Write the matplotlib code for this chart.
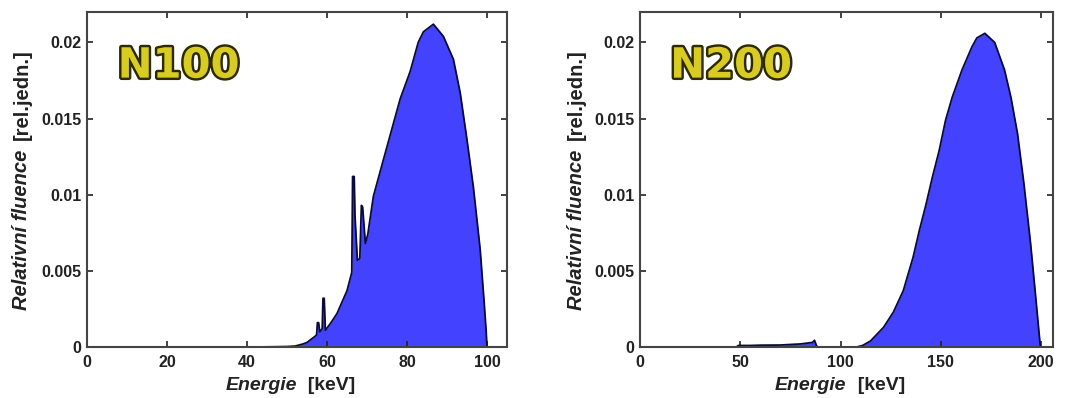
import matplotlib
matplotlib.use("Agg")
import matplotlib.pyplot as plt
import matplotlib.patheffects as pe

plt.rcParams['font.family'] = ['Liberation Sans', 'DejaVu Sans']
plt.rcParams['font.weight'] = 'bold'

# N100 spectrum (keV, relative fluence)
n100_energy = [0, 40, 45, 50, 52, 54, 55, 56, 57, 57.4, 57.6, 57.9, 58.2, 58.8, 59.0,
               59.3, 59.6, 61.0, 62.5, 64.0, 65.0, 66.2, 66.4, 66.8, 67.0, 67.6, 68.2,
               68.6, 68.9, 69.6, 70.2, 71.6, 74.1, 76.2, 78.3, 80.8, 82.8, 84.1, 86.6,
               89.1, 91.6, 93.3, 94.9, 96.6, 98.3, 99.3, 99.8, 100.0]
n100_fluence = [0, 0, 0.00001, 0.00003, 0.00006, 0.0002, 0.0003, 0.0005, 0.0007, 0.0008,
                0.0016, 0.0016, 0.0010, 0.0012, 0.0032, 0.0032, 0.0011, 0.0016, 0.0022,
                0.0031, 0.0037, 0.0049, 0.0112, 0.0112, 0.0086, 0.0057, 0.0058, 0.0093,
                0.0092, 0.0068, 0.0074, 0.0099, 0.0123, 0.0143, 0.0163, 0.0181, 0.0200,
                0.0207, 0.0212, 0.0204, 0.0189, 0.0167, 0.0138, 0.0105, 0.0064, 0.0029,
                0.0010, 0.0]

# N200 spectrum (keV, relative fluence)
n200_energy = [0, 48, 49, 55, 60, 70, 80, 86, 87, 88, 88.5, 108, 111, 115, 121.5, 126.4,
               131.3, 136.2, 139.4, 142.7, 145.9, 149.2, 152.4, 155.7, 160.6, 165.5, 168,
               172, 176.9, 181.8, 185, 188.3, 191.5, 194.8, 197.2, 198.9, 199.7, 200]
n200_fluence = [0, 0, 0.0001, 0.0001, 0.00012, 0.00013, 0.0002, 0.0003, 0.00044, 0.0001,
                0, 0, 0.0001, 0.0004, 0.0013, 0.0023, 0.0037, 0.0059, 0.0077, 0.0094,
                0.0112, 0.0129, 0.0149, 0.0164, 0.0182, 0.0197, 0.0203, 0.0206, 0.0200,
                0.0182, 0.0164, 0.0140, 0.0107, 0.0068, 0.0035, 0.0011, 0.0, 0.0]

panels = [
    ("N100", n100_energy, n100_fluence, [0, 20, 40, 60, 80, 100], 105),
    ("N200", n200_energy, n200_fluence, [0, 50, 100, 150, 200], 206),
]
yticks = [0, 0.005, 0.01, 0.015, 0.02]
ytick_labels = ["0", "0.005", "0.01", "0.015", "0.02"]

fig = plt.figure(figsize=(10.73, 3.98), dpi=100)
positions = [[0.0811, 0.1281, 0.3914, 0.8417], [0.5965, 0.1281, 0.3849, 0.8417]]

for pos, (name, e, f, xt, xmax) in zip(positions, panels):
    ax = fig.add_axes(pos)
    ax.fill_between(e, f, 0, color='#4242ff', lw=0)
    ax.plot(e, f, color='#0a0a3a', lw=1.3)
    ax.set_xlim(0, xmax)
    ax.set_ylim(0, 0.022)
    ax.set_xticks(xt)
    ax.set_yticks(yticks)
    ax.set_yticklabels(ytick_labels)
    ax.tick_params(direction='in', length=4, width=1.2, top=True, right=True,
                   labelsize=11.5, colors='#222222', pad=4)
    ax.tick_params(axis='x', pad=6)
    for lbl in ax.get_xticklabels() + ax.get_yticklabels():
        lbl.set_fontweight('bold')
    for sp in ax.spines.values():
        sp.set_color('#444444')
        sp.set_linewidth(1.5)

    # panel title with outlined yellow look
    ax.text(0.073, 0.84, name, transform=ax.transAxes, fontsize=30, fontweight='bold',
            family='DejaVu Sans', color='#d8cc22', ha='left', va='center',
            path_effects=[pe.withStroke(linewidth=3.5, foreground='#2e2a00')])

    # x label: italic word + plain unit
    xl = ax.text(0.5, -0.115, "Energie", transform=ax.transAxes, fontsize=14,
                 fontweight='bold', style='italic', ha='right', va='center',
                 color='#222222')
    ax.annotate("  [keV]", xy=(1.0, 0.5), xycoords=xl, xytext=(0, 0),
                textcoords='offset points', fontsize=14, fontweight='bold',
                ha='left', va='center', color='#222222')

    # y label: italic part then unit, rotated
    yl = ax.text(-0.155, 0.11, "Relativní fluence", transform=ax.transAxes, fontsize=14.5,
                 fontweight='bold', style='italic', rotation=90, ha='center',
                 va='bottom', color='#222222')
    ax.annotate("[rel.jedn.]", xy=(0.5, 1.0), xycoords=yl, xytext=(0, 7),
                textcoords='offset points', fontsize=14.5, fontweight='bold',
                rotation=90, ha='center', va='bottom', color='#222222')

fig.savefig("out.png", dpi=100)
